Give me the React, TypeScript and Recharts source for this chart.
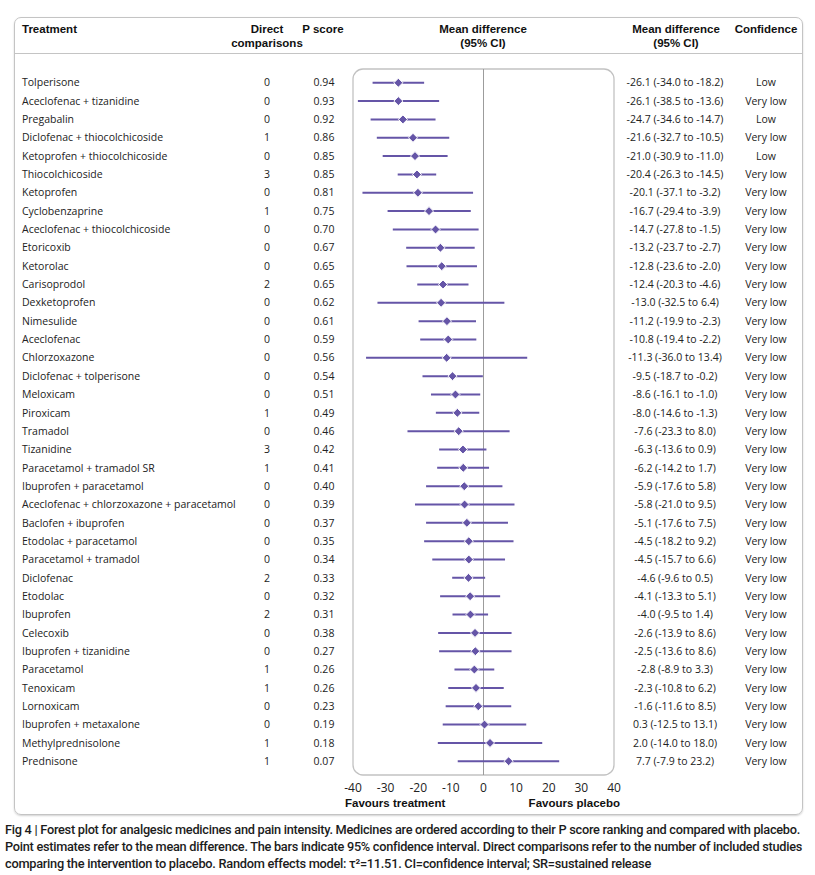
import {
  ScatterChart,
  Scatter,
  XAxis,
  YAxis,
  ErrorBar,
  ReferenceLine,
  ReferenceArea,
} from "recharts";

// rows in P score order, top to bottom
const TREATMENTS = [
  "Tolperisone",
  "Aceclofenac + tizanidine",
  "Pregabalin",
  "Diclofenac + thiocolchicoside",
  "Ketoprofen + thiocolchicoside",
  "Thiocolchicoside",
  "Ketoprofen",
  "Cyclobenzaprine",
  "Aceclofenac + thiocolchicoside",
  "Etoricoxib",
  "Ketorolac",
  "Carisoprodol",
  "Dexketoprofen",
  "Nimesulide",
  "Aceclofenac",
  "Chlorzoxazone",
  "Diclofenac + tolperisone",
  "Meloxicam",
  "Piroxicam",
  "Tramadol",
  "Tizanidine",
  "Paracetamol + tramadol SR",
  "Ibuprofen + paracetamol",
  "Aceclofenac + chlorzoxazone + paracetamol",
  "Baclofen + ibuprofen",
  "Etodolac + paracetamol",
  "Paracetamol + tramadol",
  "Diclofenac",
  "Etodolac",
  "Ibuprofen",
  "Celecoxib",
  "Ibuprofen + tizanidine",
  "Paracetamol",
  "Tenoxicam",
  "Lornoxicam",
  "Ibuprofen + metaxalone",
  "Methylprednisolone",
  "Prednisone",
];

const DIRECT = [
  0, 0, 0, 1, 0, 3, 0, 1, 0, 0, 0, 2, 0, 0, 0, 0, 0, 0, 1, 0,
  3, 1, 0, 0, 0, 0, 0, 2, 0, 2, 0, 0, 1, 1, 0, 0, 1, 1,
];

const P_SCORES = [
  "0.94", "0.93", "0.92", "0.86", "0.85", "0.85", "0.81", "0.75", "0.70", "0.67",
  "0.65", "0.65", "0.62", "0.61", "0.59", "0.56", "0.54", "0.51", "0.49", "0.46",
  "0.42", "0.41", "0.40", "0.39", "0.37", "0.35", "0.34", "0.33", "0.32", "0.31",
  "0.38", "0.27", "0.26", "0.26", "0.23", "0.19", "0.18", "0.07",
];

const MEAN_DIFF = [
  -26.1, -26.1, -24.7, -21.6, -21.0, -20.4, -20.1, -16.7, -14.7, -13.2,
  -12.8, -12.4, -13.0, -11.2, -10.8, -11.3, -9.5, -8.6, -8.0, -7.6,
  -6.3, -6.2, -5.9, -5.8, -5.1, -4.5, -4.5, -4.6, -4.1, -4.0,
  -2.6, -2.5, -2.8, -2.3, -1.6, 0.3, 2.0, 7.7,
];

const CI_LOW = [
  -34.0, -38.5, -34.6, -32.7, -30.9, -26.3, -37.1, -29.4, -27.8, -23.7,
  -23.6, -20.3, -32.5, -19.9, -19.4, -36.0, -18.7, -16.1, -14.6, -23.3,
  -13.6, -14.2, -17.6, -21.0, -17.6, -18.2, -15.7, -9.6, -13.3, -9.5,
  -13.9, -13.6, -8.9, -10.8, -11.6, -12.5, -14.0, -7.9,
];

const CI_HIGH = [
  -18.2, -13.6, -14.7, -10.5, -11.0, -14.5, -3.2, -3.9, -1.5, -2.7,
  -2.0, -4.6, 6.4, -2.3, -2.2, 13.4, -0.2, -1.0, -1.3, 8.0,
  0.9, 1.7, 5.8, 9.5, 7.5, 9.2, 6.6, 0.5, 5.1, 1.4,
  8.6, 8.6, 3.3, 6.2, 8.5, 13.1, 18.0, 23.2,
];

const CONFIDENCE = TREATMENTS.map((_, i) => (i === 0 || i === 2 || i === 4 ? "Low" : "Very low"));

const X_TICKS = [-40, -30, -20, -10, 0, 10, 20, 30, 40];

const CAPTION = [
  "Fig 4 | Forest plot for analgesic medicines and pain intensity. Medicines are ordered according to their P score ranking and compared with placebo.",
  "Point estimates refer to the mean difference. The bars indicate 95% confidence interval. Direct comparisons refer to the number of included studies",
  "comparing the intervention to placebo. Random effects model: τ²=11.51. CI=confidence interval; SR=sustained release",
];
const CAPTION_WIDTHS = [795, 797, 646];

const PURPLE = "#6555a7";
const BODY_FONT = "'Open Sans', sans-serif";
const HEAD_FONT = "'Liberation Sans', Arial, sans-serif";
const CAPTION_FONT = "Roboto, sans-serif";

const rows = TREATMENTS.map((name, i) => ({
  row: i,
  name,
  md: MEAN_DIFF[i],
  err: [MEAN_DIFF[i] - CI_LOW[i], CI_HIGH[i] - MEAN_DIFF[i]],
}));
const ROW_TICKS = rows.map((r) => r.row);

const fmt = (v: number) => v.toFixed(1);

// table columns drawn next to each row
function RowTick(props: any) {
  const { y, payload } = props;
  const i = payload.value;
  if (i < 0 || i >= TREATMENTS.length) return null;
  return (
    <g fontFamily={BODY_FONT} fontSize={10.5} fill="#222">
      <text x={22} y={y} dy="0.35em" textAnchor="start">{TREATMENTS[i]}</text>
      <text x={267} y={y} dy="0.35em" textAnchor="middle">{DIRECT[i]}</text>
      <text x={324} y={y} dy="0.35em" textAnchor="middle">{P_SCORES[i]}</text>
      <text x={675} y={y} dy="0.35em" textAnchor="middle">
        {`${fmt(MEAN_DIFF[i])} (${fmt(CI_LOW[i])} to ${fmt(CI_HIGH[i])})`}
      </text>
      <text x={766} y={y} dy="0.35em" textAnchor="middle">{CONFIDENCE[i]}</text>
    </g>
  );
}

function Diamond(props: any) {
  const { cx, cy } = props;
  const r = 4.5;
  return (
    <polygon
      points={`${cx},${cy - r} ${cx + r},${cy} ${cx},${cy + r} ${cx - r},${cy}`}
      fill={PURPLE}
      stroke="#ffffff"
      strokeWidth={1}
    />
  );
}

function RoundBox(props: any) {
  const { x, y, width, height } = props;
  return (
    <rect x={x} y={y} width={width} height={height} rx={10} ry={10} fill="none" stroke="#c2c2c2" strokeWidth={1.3} />
  );
}

function FavoursLabel(props: any) {
  const { viewBox } = props;
  const { x, y, width } = viewBox;
  return (
    <g fontFamily={HEAD_FONT} fontSize={11.5} fontWeight="bold" fill="#111">
      <text x={x - 8} y={y + 32} textAnchor="start">Favours treatment</text>
      <text x={x + width + 6} y={y + 32} textAnchor="end">Favours placebo</text>
    </g>
  );
}

const headStyle: React.CSSProperties = {
  position: "absolute",
  fontFamily: HEAD_FONT,
  fontSize: 11.5,
  fontWeight: "bold",
  color: "#111",
  lineHeight: "14px",
  textAlign: "center",
  whiteSpace: "nowrap",
};

export default function App() {
  return (
    <div style={{ position: "absolute", left: 0, top: 0, width: 815, height: 875, background: "#fff" }}>
      {/* outer frame */}
      <div
        style={{
          position: "absolute",
          left: 14,
          top: 17,
          width: 787,
          height: 796,
          border: "1px solid #c4c4c4",
          borderRadius: 7,
          boxShadow: "0 1px 2px rgba(0,0,0,0.18)",
        }}
      />
      <div style={{ position: "absolute", left: 15, top: 53, width: 787, height: 1, background: "#c4c4c4" }} />

      {/* header */}
      <div style={{ ...headStyle, left: 22, top: 22, textAlign: "left" }}>Treatment</div>
      <div style={{ ...headStyle, left: 217, top: 22, width: 100 }}>Direct<br />comparisons</div>
      <div style={{ ...headStyle, left: 293, top: 22, width: 60 }}>P score</div>
      <div style={{ ...headStyle, left: 423, top: 22, width: 120 }}>Mean difference<br />(95% CI)</div>
      <div style={{ ...headStyle, left: 616, top: 22, width: 120 }}>Mean difference<br />(95% CI)</div>
      <div style={{ ...headStyle, left: 726, top: 22, width: 80 }}>Confidence</div>

      <div style={{ position: "absolute", left: 0, top: 0 }}>
        <ScatterChart width={815} height={820} margin={{ top: 69, right: 201, bottom: 0, left: 0 }}>
          <ReferenceArea x1={-40} x2={40} y1={-0.75} y2={37.75} shape={RoundBox} ifOverflow="visible" />
          <ReferenceLine x={0} stroke="#9c9c9c" strokeWidth={1} />
          <XAxis
            type="number"
            dataKey="md"
            domain={[-40, 40]}
            ticks={X_TICKS}
            allowDataOverflow
            axisLine={false}
            tickLine={false}
            height={45}
            tick={{ fontFamily: BODY_FONT, fontSize: 12, fill: "#222" }}
            label={<FavoursLabel />}
          />
          <YAxis
            type="number"
            dataKey="row"
            domain={[-0.75, 37.75]}
            reversed
            allowDataOverflow
            ticks={ROW_TICKS}
            interval={0}
            width={353}
            axisLine={false}
            tickLine={false}
            tick={<RowTick />}
          />
          <Scatter data={rows} fill={PURPLE} shape={Diamond} isAnimationActive={false}>
            <ErrorBar dataKey="err" direction="x" width={0} stroke={PURPLE} strokeWidth={2} isAnimationActive={false} />
          </Scatter>
        </ScatterChart>
      </div>

      {/* caption */}
      <svg
        width={815}
        height={55}
        style={{ position: "absolute", left: 0, top: 820 }}
        fontFamily={CAPTION_FONT}
        fontSize={12}
        fontWeight={500}
        letterSpacing={-0.25}
        fill="#1c1c1c"
      >
        {CAPTION.map((line, i) => (
          <text key={i} x={5} y={14 + i * 17} textLength={CAPTION_WIDTHS[i]} lengthAdjust="spacingAndGlyphs">
            {line}
          </text>
        ))}
      </svg>
    </div>
  );
}
